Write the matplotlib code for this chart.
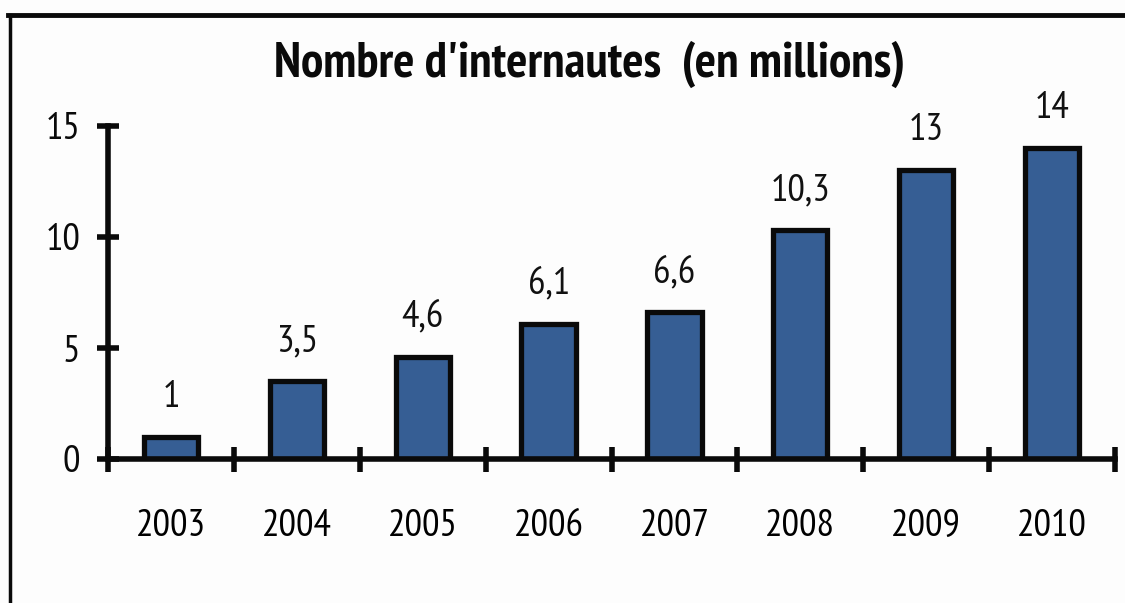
import matplotlib
matplotlib.use("Agg")
import matplotlib.pyplot as plt
from matplotlib.lines import Line2D
from matplotlib import font_manager

years = ["2003", "2004", "2005", "2006", "2007", "2008", "2009", "2010"]
values = [1, 3.5, 4.6, 6.1, 6.6, 10.3, 13, 14]
labels = ["1", "3,5", "4,6", "6,1", "6,6", "10,3", "13", "14"]
yticks = [0, 5, 10, 15]
title = "Nombre d'internautes  (en millions)"

fl = font_manager.fontManager.ttflist
def find(keys, bold):
    for k in keys:
        for f in fl:
            nm = (f.name + " " + f.fname).lower()
            isb = (f.weight in ("bold", 700) or (isinstance(f.weight, int) and f.weight >= 700))
            if k in nm and isb == bold and "italic" not in f.style and "oblique" not in f.style and "italic" not in nm and "oblique" not in nm:
                return f.fname
    return None

keys = ["sans narrow", "sansnarrow", "roboto condensed", "robotocondensed", "dejavusanscondensed",
        "open sans condensed", "opensans_condensed", "opensanscondensed", "condensed", "narrow"]
freg = find(keys, False)
fbold = find(keys, True)

reg = font_manager.FontProperties(fname=freg) if freg else font_manager.FontProperties(family="Liberation Sans")
bold = font_manager.FontProperties(fname=fbold) if fbold else font_manager.FontProperties(family="Liberation Sans", weight="bold")

fig = plt.figure(figsize=(11.25, 6.03), dpi=100)
fig.patch.set_facecolor("#fdfdfd")
ax = fig.add_axes([108/1125, 1-459/603, (1115-108)/1125, (459-126)/603])
ax.set_facecolor("none")

x = list(range(len(years)))
ax.bar(x, values, width=0.43, color="#365e94", edgecolor="#0a0a0a", linewidth=3.8, zorder=2)
ax.set_xlim(-0.5, 7.5)
ax.set_ylim(0, 15)

for xi, v, lab in zip(x, values, labels):
    t = ax.annotate(lab, (xi, v), xytext=(0, 16), textcoords="offset points",
                    ha="center", va="bottom", color="#111111")
    t.set_fontproperties(reg); t.set_fontsize(28)

for s in ["top", "right"]:
    ax.spines[s].set_visible(False)
for s in ["left", "bottom"]:
    ax.spines[s].set_linewidth(4)
    ax.spines[s].set_color("#0a0a0a")

ax.set_yticks(yticks)
ax.set_yticklabels([str(t) for t in yticks])
ax.tick_params(axis="y", direction="inout", length=16, width=4, pad=12, colors="#0a0a0a")
ax.set_xticks([i + 0.5 for i in range(-1, 8)])
ax.set_xticklabels([""] * 9)
ax.tick_params(axis="x", direction="inout", length=18, width=4, colors="#0a0a0a")
ax.set_xticks(x, minor=True)
ax.set_xticklabels(years, minor=True)
ax.tick_params(axis="x", which="minor", length=0, pad=36)
for t in ax.get_yticklabels() + ax.get_xticklabels(minor=True):
    t.set_fontproperties(reg); t.set_fontsize(28)

tt = fig.text(590/1125, 1-64/603, title, ha="center", va="center", color="#0a0a0a")
tt.set_fontproperties(bold); tt.set_fontsize(36)

# frame
fig.add_artist(Line2D([8/1125, 1], [1-15/603, 1-15/603], color="#0a0a0a", linewidth=3.5, transform=fig.transFigure))
fig.add_artist(Line2D([9.5/1125, 9.5/1125], [0, 1-15/603], color="#0a0a0a", linewidth=2.5, transform=fig.transFigure))

fig.savefig("out.png", dpi=100, facecolor=fig.get_facecolor())
